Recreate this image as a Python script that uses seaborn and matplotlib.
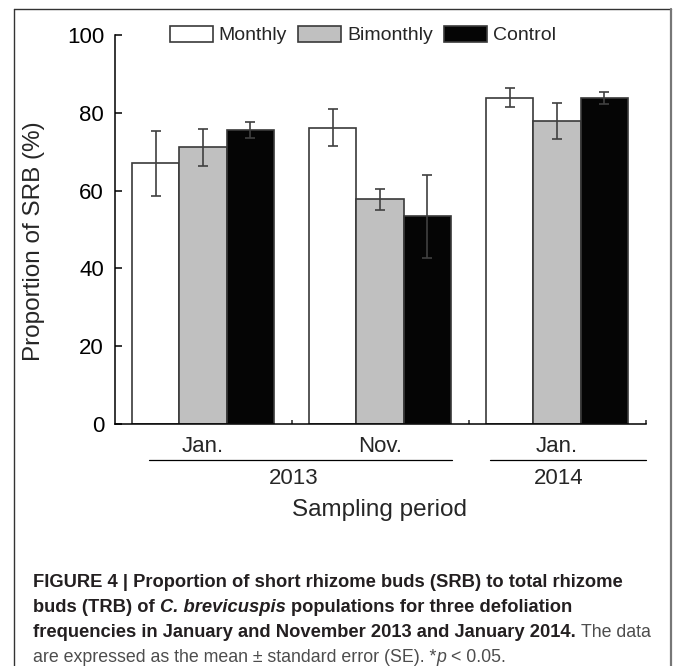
import numpy as np
import pandas as pd
import matplotlib
matplotlib.use("Agg")
import matplotlib.pyplot as plt
import matplotlib.transforms as mtransforms
from matplotlib.lines import Line2D
import seaborn as sns

# -------------------------------
# Data
# -------------------------------
periods = ["Jan. 2013", "Nov. 2013", "Jan. 2014"]
month_labels = ["Jan.", "Nov.", "Jan."]
years = ["2013", "2014"]
treatments = ["Monthly", "Bimonthly", "Control"]

monthly = [67.0, 76.2, 83.9]
bimonthly = [71.1, 57.8, 77.9]
control = [75.6, 53.4, 83.8]

monthly_se = [8.3, 4.8, 2.5]
bimonthly_se = [4.7, 2.7, 4.6]
control_se = [2.0, 10.7, 1.6]

colors = ["#ffffff", "#c0c0c0", "#050505"]

df = pd.DataFrame({
    "period": periods * 3,
    "treatment": np.repeat(treatments, 3),
    "value": monthly + bimonthly + control,
    "se": monthly_se + bimonthly_se + control_se,
})

# -------------------------------
# Style
# -------------------------------
sns.set_style("ticks")
plt.rcParams["font.family"] = ["Liberation Sans", "DejaVu Sans"]

W, H = 673, 666
fig = plt.figure(figsize=(W / 100, H / 100), dpi=100)
ax = fig.add_axes([114.5 / W, (H - 424) / H, 531 / W, 389 / H])

sns.barplot(data=df, x="period", y="value", hue="treatment",
            order=periods, hue_order=treatments,
            palette=colors, edgecolor="#3a3a3a", linewidth=1.2,
            width=0.8, errorbar=None, ax=ax)

# error bars on the bars seaborn drew
for cont, tr in zip(ax.containers, treatments):
    sub = df[df["treatment"] == tr].set_index("period").loc[periods]
    xs = [b.get_x() + b.get_width() / 2 for b in cont]
    ax.errorbar(xs, sub["value"], yerr=sub["se"], fmt="none",
                ecolor="#404040", elinewidth=1.2, capsize=3.6,
                capthick=1.2, zorder=5)

# -------------------------------
# Axes
# -------------------------------
ax.set_ylim(0, 100)
ax.set_xlim(-0.5, 2.5)
ax.set_yticks([0, 20, 40, 60, 80, 100])
ax.tick_params(axis="y", direction="in", length=5, width=1.1,
               labelsize=16, pad=7.5, colors="black")
ax.set_xticks(range(3))
ax.set_xticklabels(month_labels)
ax.tick_params(axis="x", which="major", length=0, labelsize=16, pad=9)
ax.set_xticks([0.5, 1.5, 2.5], minor=True)
ax.tick_params(axis="x", which="minor", direction="in", length=3, width=1.1)
sns.despine(ax=ax)
for s in ["left", "bottom"]:
    ax.spines[s].set_linewidth(1.1)
    ax.spines[s].set_color("black")

ax.set_ylabel("Proportion of SRB (%)", fontsize=17.5)
ax.yaxis.set_label_coords(-0.131, 0.47)
ax.set_xlabel("Sampling period", fontsize=17.5)
ax.xaxis.set_label_coords(0.5, (424 - 510) / 389)
ax.xaxis.label.set_va("center")

# year grouping lines and labels under the months
trans = mtransforms.blended_transform_factory(ax.transData, ax.transAxes)
line_y = (424 - 460) / 389
year_y = (424 - 478) / 389
ax.plot([-0.305, 1.407], [line_y, line_y], color="black", lw=0.9,
        transform=trans, clip_on=False)
ax.plot([1.624, 2.5], [line_y, line_y], color="black", lw=0.9,
        transform=trans, clip_on=False)
for yr, xc in zip(years, [0.515, 2.01]):
    ax.text(xc, year_y, yr, transform=trans, ha="center", va="center",
            fontsize=16)

# legend
handles, labels = ax.get_legend_handles_labels()
ax.legend(handles, labels, loc="center left", ncol=3, frameon=False,
          bbox_to_anchor=(169.8 / W, 1 - 35 / H),
          bbox_transform=fig.transFigure, fontsize=14,
          handlelength=2.2, handleheight=0.88, handletextpad=0.3,
          columnspacing=0.6, borderpad=0, borderaxespad=0)

# -------------------------------
# Figure frame
# -------------------------------
fig.add_artist(Line2D([14 / W, 671 / W], [1 - 9 / H, 1 - 9 / H],
                      color="#333333", lw=1.0, transform=fig.transFigure))
fig.add_artist(Line2D([14 / W, 14 / W], [1 - 9 / H, 0],
                      color="#333333", lw=1.0, transform=fig.transFigure))
fig.add_artist(Line2D([671 / W, 671 / W], [1 - 9 / H, 0],
                      color="#777777", lw=1.6, transform=fig.transFigure))

# -------------------------------
# Caption (mixed bold / italic pieces)
# -------------------------------
renderer = fig.canvas.get_renderer()
bold_size = 13.2
reg_size = 12.8
dark = "#231f20"
light = "#4d4d4d"


def text_width(s, size, **kw):
    t = fig.text(0, 0, s, fontsize=size, **kw)
    w = t.get_window_extent(renderer).width
    t.remove()
    return w


def draw_line(x, y, pieces):
    for s, weight, style, color, gap in pieces:
        size = bold_size if weight == "bold" else reg_size
        x += gap * (text_width("x x", size, weight=weight, style=style)
                    - text_width("xx", size, weight=weight, style=style))
        t = fig.text(x / W, 1 - y / H, s, fontsize=size, weight=weight,
                     style=style, color=color, va="baseline")
        x += t.get_window_extent(renderer).width


caption = [
    [("FIGURE 4 | Proportion of short rhizome buds (SRB) to total rhizome",
      "bold", "normal", dark, 0)],
    [("buds (TRB) of", "bold", "normal", dark, 0),
     ("C. brevicuspis", "bold", "italic", dark, 1),
     ("populations for three defoliation", "bold", "normal", dark, 1)],
    [("frequencies in January and November 2013 and January 2014.",
      "bold", "normal", dark, 0),
     ("The data", "normal", "normal", light, 1)],
    [("are expressed as the mean \u00b1 standard error (SE). *",
      "normal", "normal", light, 0),
     ("p", "normal", "italic", light, 0),
     ("< 0.05.", "normal", "normal", light, 1)],
]
for i, pieces in enumerate(caption):
    draw_line(33, 587 + i * 25, pieces)

fig.savefig("out.png", dpi=100)
